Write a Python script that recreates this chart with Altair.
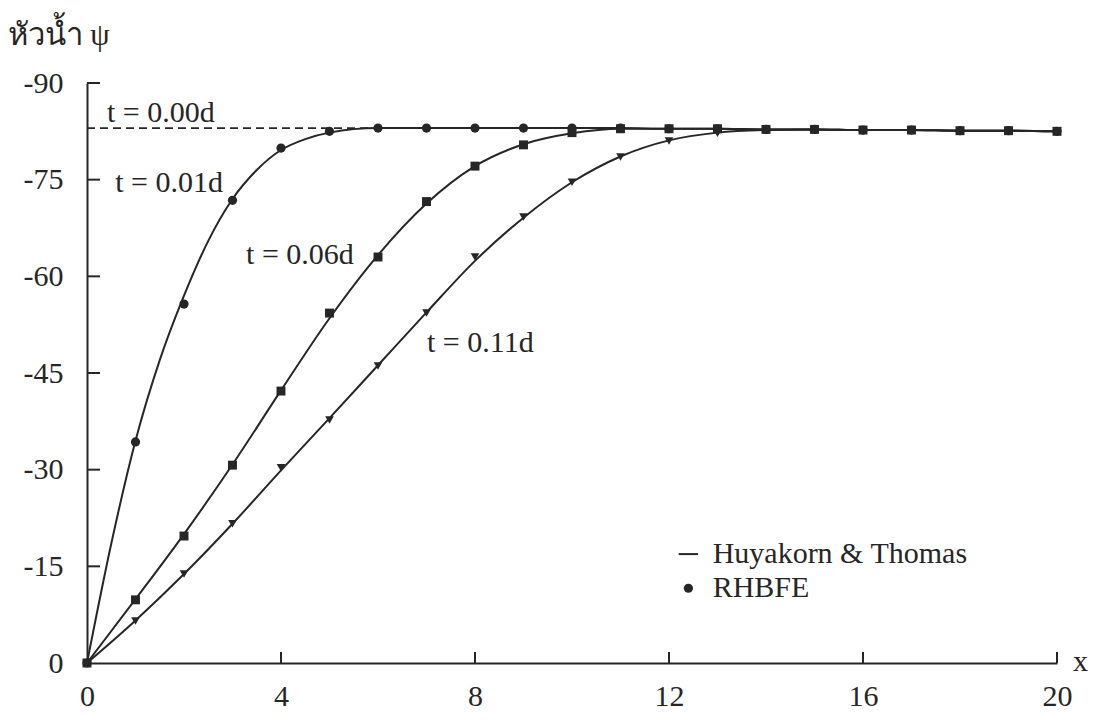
import altair as alt
import pandas as pd

# ---- data ----
x_pts = list(range(21))
psi_t001 = [0, -34.3, -55.7, -71.8, -79.9, -82.5, -83.0, -83.0, -83.0, -83.0, -83.0,
            -83.0, -82.9, -82.9, -82.8, -82.8, -82.7, -82.7, -82.6, -82.6, -82.5]
psi_t006 = [0, -9.8, -19.7, -30.7, -42.2, -54.3, -63.0, -71.6, -77.1, -80.4, -82.3,
            -82.9, -82.9, -82.9, -82.8, -82.8, -82.7, -82.7, -82.6, -82.6, -82.5]
psi_t011 = [0, -6.5, -13.8, -21.6, -30.3, -37.7, -46.1, -54.3, -63.0, -69.2, -74.6,
            -78.5, -81.0, -82.2, -82.6, -82.7, -82.7, -82.7, -82.6, -82.6, -82.5]

# Huyakorn & Thomas curves
line_x_001 = [0, 0.5, 1, 1.5, 2, 2.5, 3, 3.5, 4, 4.5, 5, 6, 7, 8, 9, 10, 11, 12, 13, 14, 15, 16, 17, 18, 19, 20]
line_y_001 = [0, -18.5, -34.5, -47.0, -57.0, -65.5, -72.0, -76.5, -79.6, -81.3, -82.3, -83.0, -83.0, -83.0,
              -83.0, -83.0, -83.0, -82.9, -82.9, -82.8, -82.8, -82.7, -82.7, -82.6, -82.6, -82.5]
line_x_006 = x_pts
line_y_006 = [0, -9.9, -20.0, -30.8, -42.3, -53.5, -63.3, -71.3, -77.1, -80.5, -82.2,
              -82.9, -82.9, -82.9, -82.8, -82.8, -82.7, -82.7, -82.6, -82.6, -82.5]
line_x_011 = x_pts
line_y_011 = [0, -6.6, -13.8, -21.6, -29.9, -38.0, -46.2, -54.4, -62.4, -69.1, -74.6,
              -78.6, -81.1, -82.3, -82.7, -82.8, -82.7, -82.7, -82.6, -82.6, -82.5]

initial_x = [0, 6]
initial_y = [-83.0, -83.0]

label_text = ["t = 0.00d", "t = 0.01d", "t = 0.06d", "t = 0.11d"]
label_x = [0.41, 0.58, 3.28, 7.01]
label_y = [-85.3, -74.5, -63.3, -49.7]

y_ticks = [-90, -75, -60, -45, -30, -15, 0]
x_ticks = [0, 4, 8, 12, 16, 20]

legend_text = ["Huyakorn & Thomas", "RHBFE"]
legend_x = 12.9
legend_y = [-16.9, -11.6]
legend_line_x = [12.2, 12.6]
legend_dot_x = 12.4

INK = "#262626"
FONT = "Liberation Serif"

# ---- tables ----
pts = pd.DataFrame({
    "x": x_pts * 3,
    "psi": psi_t001 + psi_t006 + psi_t011,
    "series": ["t001"] * 21 + ["t006"] * 21 + ["t011"] * 21,
})
lines = pd.DataFrame({
    "x": line_x_001 + line_x_006 + line_x_011,
    "psi": line_y_001 + line_y_006 + line_y_011,
    "series": ["t001"] * len(line_x_001) + ["t006"] * len(line_x_006) + ["t011"] * len(line_x_011),
})
init = pd.DataFrame({"x": initial_x, "psi": initial_y})
labels = pd.DataFrame({"text": label_text, "x": label_x, "psi": label_y})
leg_text = pd.DataFrame({"text": legend_text, "x": [legend_x] * 2, "psi": legend_y})
leg_line = pd.DataFrame({"x": [legend_line_x[0]], "x2": [legend_line_x[1]], "psi": [legend_y[0]]})
leg_dot = pd.DataFrame({"x": [legend_dot_x], "psi": [legend_y[1]]})
yt = pd.DataFrame({"psi": [v for v in y_ticks if v != 0]})
xt = pd.DataFrame({"x": [v for v in x_ticks if v != 0]})

xscale = alt.Scale(domain=[0, 20], nice=False, zero=False)
yscale = alt.Scale(domain=[-90, 0], nice=False, reverse=True)

xaxis = alt.Axis(values=x_ticks, ticks=False, grid=False, domainColor=INK, domainWidth=2,
                 labelFont=FONT, labelFontSize=30, labelColor=INK, labelPadding=18,
                 labelFlush=False, labelExpr="'' + datum.value",
                 title="x", titleFont=FONT, titleFontSize=30, titleFontWeight="normal",
                 titleColor=INK, titleX=993, titleY=-2, titleBaseline="middle", titleAlign="center")
yaxis = alt.Axis(values=y_ticks, ticks=False, grid=False, domainColor=INK, domainWidth=2,
                 labelFont=FONT, labelFontSize=30, labelColor=INK, labelPadding=24,
                 labelBaseline="middle", labelFlush=False, labelExpr="'' + datum.value",
                 title="หัวน้ำ ψ", titleFont=FONT, titleFontSize=31, titleFontWeight="normal",
                 titleColor=INK, titleAngle=0, titleAlign="left", titleBaseline="middle",
                 titleX=-80, titleY=-48)

X = alt.X("x:Q", scale=xscale, axis=xaxis)
Y = alt.Y("psi:Q", scale=yscale, axis=yaxis)

base_lines = alt.Chart(lines).mark_line(interpolate="monotone", color=INK, strokeWidth=2).encode(
    x=X, y=Y, detail="series:N")

dashed = alt.Chart(init).mark_line(color=INK, strokeWidth=1.6, strokeDash=[8, 5]).encode(x=X, y=Y)

points = alt.Chart(pts).mark_point(filled=True, opacity=1, color=INK).encode(
    x=X, y=Y,
    shape=alt.Shape("series:N", legend=None,
                    scale=alt.Scale(domain=["t001", "t006", "t011"],
                                    range=["circle", "square", "triangle-down"])),
    size=alt.Size("series:N", legend=None,
                  scale=alt.Scale(domain=["t001", "t006", "t011"], range=[85, 75, 120])))

text_labels = alt.Chart(labels).mark_text(font=FONT, fontSize=30, color=INK, align="left",
                                          baseline="middle").encode(x=X, y=Y, text="text:N")

legend_t = alt.Chart(leg_text).mark_text(font=FONT, fontSize=30, color=INK, align="left",
                                         baseline="middle").encode(x=X, y=Y, text="text:N")
legend_l = alt.Chart(leg_line).mark_rule(color=INK, strokeWidth=2).encode(
    x=X, x2="x2:Q", y=Y)
legend_d = alt.Chart(leg_dot).mark_point(filled=True, opacity=1, color=INK, size=85,
                                         shape="circle").encode(x=X, y=Y)

ytick_marks = alt.Chart(yt).mark_rule(color=INK, strokeWidth=2).encode(
    y=Y, x=alt.value(0), x2=alt.value(13))
xtick_marks = alt.Chart(xt).mark_rule(color=INK, strokeWidth=2).encode(
    x=X, y=alt.value(580), y2=alt.value(569))

chart = alt.layer(base_lines, dashed, points, text_labels, legend_t, legend_l, legend_d,
                  ytick_marks, xtick_marks).properties(
    width=970, height=580,
    autosize=alt.AutoSizeParams(type="none"),
    padding={"left": 87, "top": 83, "right": 37, "bottom": 64},
    background="white",
).configure_view(stroke=None)

chart.save("out.html", embed_options={"renderer": "svg", "actions": False})
